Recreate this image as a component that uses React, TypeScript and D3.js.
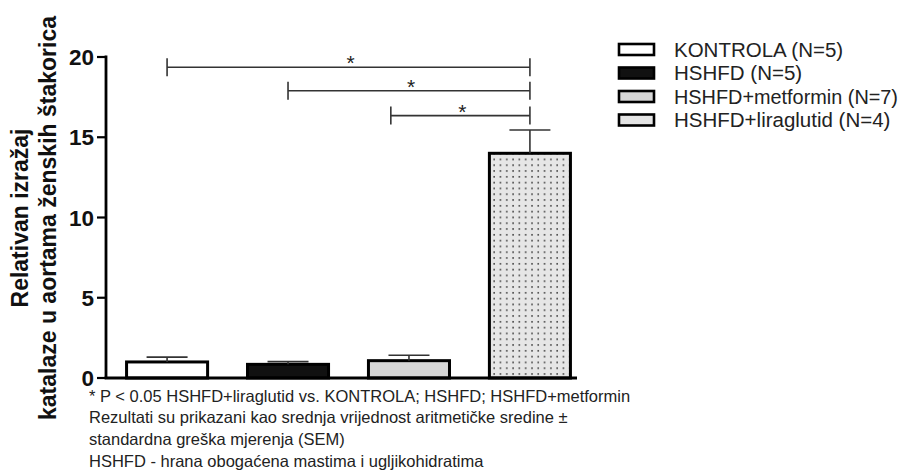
import { useEffect, useRef } from 'react'
import * as d3 from 'd3'

const groups = ['KONTROLA', 'HSHFD', 'HSHFD+metformin', 'HSHFD+liraglutid']
const legendLabels = ['KONTROLA (N=5)', 'HSHFD (N=5)', 'HSHFD+metformin (N=7)', 'HSHFD+liraglutid (N=4)']
const means = [1.0, 0.85, 1.08, 14.0]
const sems = [0.3, 0.17, 0.34, 1.45]
const fills = ['#ffffff', '#111111', '#d6d6d6', 'url(#dots)']
const yTicks = [0, 5, 10, 15, 20]

// significance brackets: from / to in group position units, y in data units
const bracketFrom = [0, 1, 1.85]
const bracketTo = [3, 3, 3]
const bracketY = [19.36, 17.9, 16.35]

const footnotes = [
  '* P < 0.05 HSHFD+liraglutid vs. KONTROLA; HSHFD; HSHFD+metformin',
  'Rezultati su prikazani kao srednja vrijednost aritmetičke sredine ±',
  'standardna greška mjerenja (SEM)',
  'HSHFD - hrana obogaćena mastima i ugljikohidratima',
]

const FONT = "'Liberation Sans', Arial, sans-serif"

export default function App() {
  const svgRef = useRef<SVGSVGElement>(null)
  const width = 910
  const height = 474

  useEffect(() => {
    if (!svgRef.current) return
    const svg = d3.select(svgRef.current)
    svg.selectAll('*').remove()

    const left = 106
    const y = d3.scaleLinear().domain([0, 20]).range([378, 57])
    const x = d3.scaleBand<string>()
      .domain(groups)
      .range([left, 591])
      .paddingInner(0.33)
      .paddingOuter(0.17)
    const pos = d3.scaleLinear()
      .domain([0, 3])
      .range([x(groups[0])! + x.bandwidth() / 2, x(groups[3])! + x.bandwidth() / 2])

    // dotted pattern
    const defs = svg.append('defs')
    const pat = defs.append('pattern')
      .attr('id', 'dots')
      .attr('patternUnits', 'userSpaceOnUse')
      .attr('width', 6.3)
      .attr('height', 5.8)
    pat.append('rect').attr('width', 6.3).attr('height', 5.8).attr('fill', '#e6e6e6')
    pat.append('rect').attr('x', 2).attr('y', 2).attr('width', 1.6).attr('height', 1.6).attr('fill', '#444')

    const legPat = defs.append('pattern')
      .attr('id', 'dotsLeg')
      .attr('patternUnits', 'userSpaceOnUse')
      .attr('width', 6.3)
      .attr('height', 12)
    legPat.append('rect').attr('width', 6.3).attr('height', 12).attr('fill', '#e4e4e4')
    legPat.append('rect').attr('x', 2).attr('y', 5.5).attr('width', 1.3).attr('height', 1.3).attr('fill', '#666')

    // bars
    const g = svg.append('g')
    g.selectAll('rect.bar')
      .data(means)
      .join('rect')
      .attr('class', 'bar')
      .attr('x', (_, i) => x(groups[i])!)
      .attr('y', (d) => y(d))
      .attr('width', x.bandwidth())
      .attr('height', (d) => y(0) - y(d))
      .attr('fill', (_, i) => fills[i])
      .attr('stroke', '#000')
      .attr('stroke-width', 3)

    // error bars
    const err = g.append('g').attr('stroke', '#333').attr('stroke-width', 1.6)
    means.forEach((m, i) => {
      const cx = x(groups[i])! + x.bandwidth() / 2
      err.append('line')
        .attr('x1', cx).attr('x2', cx)
        .attr('y1', y(m)).attr('y2', y(m + sems[i]))
      err.append('line')
        .attr('x1', cx - 20.5).attr('x2', cx + 20.5)
        .attr('y1', y(m + sems[i])).attr('y2', y(m + sems[i]))
    })

    // axes
    const axisG = svg.append('g').attr('stroke', '#000').attr('stroke-width', 2.8)
    axisG.append('line')
      .attr('x1', left).attr('x2', left)
      .attr('y1', y(20) - 1.4).attr('y2', y(0))
    axisG.append('line')
      .attr('x1', left - 1.4).attr('x2', 577)
      .attr('y1', y(0)).attr('y2', y(0))
    axisG.selectAll('line.tick')
      .data(yTicks)
      .join('line')
      .attr('class', 'tick')
      .attr('x1', left - 9).attr('x2', left)
      .attr('y1', (d) => y(d)).attr('y2', (d) => y(d))
      .attr('stroke-width', 2.2)

    svg.append('g')
      .selectAll('text')
      .data(yTicks)
      .join('text')
      .attr('x', left - 12)
      .attr('y', (d) => y(d) + 8)
      .attr('text-anchor', 'end')
      .attr('font-family', FONT)
      .attr('font-weight', 'bold')
      .attr('font-size', 22.5)
      .attr('fill', '#111')
      .text((d) => d)

    // y label
    const yl = svg.append('text')
      .attr('transform', 'translate(0,218) rotate(-90)')
      .attr('text-anchor', 'middle')
      .attr('font-family', FONT)
      .attr('font-weight', 'bold')
      .attr('font-size', 23)
      .attr('fill', '#111')
    yl.append('tspan').attr('x', 0).attr('y', 28).text('Relativan izražaj')
    yl.append('tspan').attr('x', 0).attr('y', 56).text('katalaze u aortama ženskih štakorica')

    // significance brackets
    const br = svg.append('g').attr('stroke', '#333').attr('stroke-width', 1.6)
    bracketY.forEach((by, i) => {
      const x1 = pos(bracketFrom[i])
      const x2 = pos(bracketTo[i])
      const yy = y(by)
      br.append('line').attr('x1', x1).attr('x2', x2).attr('y1', yy).attr('y2', yy)
      br.append('line').attr('x1', x1).attr('x2', x1).attr('y1', yy - 9).attr('y2', yy + 9)
      br.append('line').attr('x1', x2).attr('x2', x2).attr('y1', yy - 9).attr('y2', yy + 9)
      svg.append('text')
        .attr('x', (x1 + x2) / 2 + 2)
        .attr('y', yy + 3)
        .attr('text-anchor', 'middle')
        .attr('font-family', FONT)
        .attr('font-size', 21)
        .attr('fill', '#222')
        .text('*')
    })

    // legend
    const leg = svg.append('g').attr('transform', 'translate(619,0)')
    const rowY = [49.5, 73, 96.5, 120]
    const maxTextW = width - 619 - 55 - 12
    legendLabels.forEach((lab, i) => {
      leg.append('rect')
        .attr('x', 0)
        .attr('y', rowY[i] - 5.5)
        .attr('width', 35)
        .attr('height', 11)
        .attr('fill', i === 3 ? 'url(#dotsLeg)' : fills[i])
        .attr('stroke', '#000')
        .attr('stroke-width', 2.6)
      const t = leg.append('text')
        .attr('x', 55)
        .attr('y', rowY[i] + 7.3)
        .attr('font-family', FONT)
        .attr('font-size', 20.5)
        .attr('fill', '#222')
        .text(lab)
      const node = t.node() as SVGTextElement
      if (node.getComputedTextLength() > maxTextW) {
        t.attr('textLength', maxTextW).attr('lengthAdjust', 'spacingAndGlyphs')
      }
    })

    // footnotes
    svg.append('g')
      .selectAll('text')
      .data(footnotes)
      .join('text')
      .attr('x', 89)
      .attr('y', (_, i) => 401.5 + i * 21.7)
      .attr('font-family', FONT)
      .attr('font-size', 16.5)
      .attr('fill', '#222')
      .text((d) => d)
  }, [])

  return (
    <svg
      ref={svgRef}
      width={width}
      height={height}
      style={{ position: 'absolute', left: 0, top: 0, background: '#fff' }}
    />
  )
}
